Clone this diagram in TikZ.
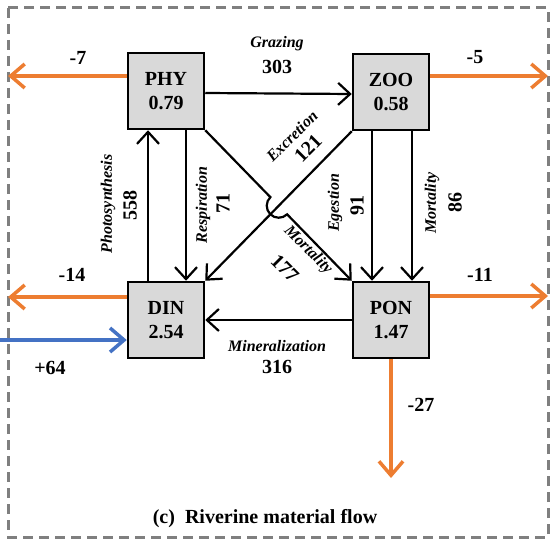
\documentclass[tikz,border=0pt]{standalone}
\usepackage{fontspec}
\setmainfont{Liberation Serif}
\usetikzlibrary{arrows.meta,calc}
\definecolor{myorange}{HTML}{ED7D31}
\definecolor{myblue}{HTML}{4472C4}
\definecolor{boxgray}{HTML}{D9D9D9}
\definecolor{bordergray}{HTML}{7F7F7F}
\begin{document}
\begin{tikzpicture}[x=1pt,y=-1pt,
 box/.style={draw,line width=2.5pt,fill=boxgray,minimum size=76pt,inner sep=0pt,align=center,font=\bfseries\fontsize{20}{24}\selectfont},
 flow/.style={line width=2.2pt,-{Straight Barb[length=12pt,width=22pt]}},
 ext/.style={line width=3.5pt,-{Straight Barb[length=14pt,width=24pt]}},
 num/.style={font=\bfseries\fontsize{20}{24}\selectfont,inner sep=0pt},
 lab/.style={font=\bfseries\itshape\fontsize{16}{19}\selectfont,inner sep=0pt}]
\useasboundingbox (0,0) rectangle (551,540);
\draw[bordergray,line width=3pt,dash pattern=on 10pt off 6pt] (8,8) rectangle (548,537);

\node[box] (PHY) at (166,91) {PHY\\0.79};
\node[box] (ZOO) at (391,92) {ZOO\\0.58};
\node[box] (DIN) at (166,320) {DIN\\2.54};
\node[box] (PON) at (391,320) {PON\\1.47};

\coordinate (phyOut) at (8,76);
\coordinate (zooOut) at (548,76);
\coordinate (dinOut) at (8,297);
\coordinate (dinIn) at (0,340);
\coordinate (ponOut) at (548,296);
\coordinate (ponDown) at (391,478);

% external flows
\draw[ext,myorange] ([yshift=15pt]PHY.west) -- (phyOut);
\draw[ext,myorange] ([yshift=16pt]ZOO.east) -- (zooOut);
\draw[ext,myorange] ([yshift=23pt]DIN.west) -- (dinOut);
\draw[ext,myblue] (dinIn) -- ([yshift=-20pt]DIN.west);
\draw[ext,myorange] ([yshift=24pt]PON.east) -- (ponOut);
\draw[ext,myorange] (PON.south) -- (ponDown);

% internal flows
\draw[flow] ([yshift=-2pt]PHY.east) -- ([yshift=-2pt]ZOO.west);
\draw[flow] ([xshift=-18pt]DIN.north) -- ([xshift=-18pt]PHY.south);
\draw[flow] ([xshift=20pt]PHY.south) -- ([xshift=20pt]DIN.north);
\draw[flow] ([xshift=-19pt]ZOO.south) -- ([xshift=-19pt]PON.north);
\draw[flow] ([xshift=21pt]ZOO.south) -- ([xshift=21pt]PON.north);
\draw[flow] (PON.west) -- (DIN.east);
\draw[flow] (ZOO.south west) -- (DIN.north east);
\coordinate (X) at ($(PHY.south east)!0.5016!(PON.north west)$);
\coordinate (hopA) at ($(X)!12pt!(PHY.south east)$);
\draw[flow] (PHY.south east) -- (hopA) arc[start angle=225.76,end angle=45.76,radius=12] -- (PON.north west);

% labels
\node[lab] (lgraz) at (277,44) {Grazing};
\node[num] (ngraz) at (277,67) {303};
\node[lab,rotate=90] (lphot) at (108,204) {Photosynthesis};
\node[num,rotate=90] (nphot) at (130,205) {558};
\node[lab,rotate=90] (lresp) at (203,205) {Respiration};
\node[num,rotate=90] (nresp) at (223,203) {71};
\node[lab,rotate=90] (leges) at (335,203) {Egestion};
\node[num,rotate=90] (neges) at (357,205) {91};
\node[lab,rotate=90] (lmort) at (432,203) {Mortality};
\node[num,rotate=90] (nmort) at (455,202) {86};
\node[lab,rotate=45] (lexc) at (292,136) {Excretion};
\node[num,rotate=45] (nexc) at (308,148) {121};
\node[lab,rotate=-45] (lmort2) at (308,250) {Mortality};
\node[num,rotate=-45] (nmort2) at (285,268) {177};
\node[lab] (lmin) at (277,346) {Mineralization};
\node[num] (nmin) at (277,367) {316};

\node[num] (n7) at (78,58) {-7};
\node[num] (n5) at (475,57) {-5};
\node[num] (n14) at (72,275) {-14};
\node[num] (n64) at (50,368) {+64};
\node[num] (n11) at (480,275) {-11};
\node[num] (n27) at (421,405) {-27};

\node[num] (title) at (265,519) {(c)\ \ Riverine material flow};
\end{tikzpicture}
\end{document}
